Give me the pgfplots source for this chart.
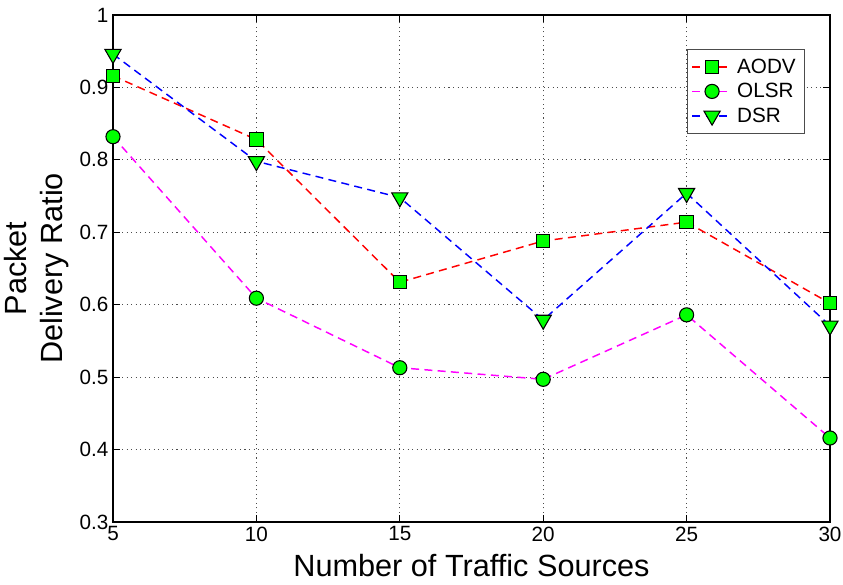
\documentclass[border=0pt]{standalone}
\usepackage{pgfplots}
\pgfplotsset{compat=1.18}
\usepackage{fontspec}
\setmainfont{Liberation Sans}
\definecolor{mgreen}{RGB}{0,255,0}
\definecolor{mmag}{RGB}{255,0,255}
\definecolor{mred}{RGB}{255,0,0}
\definecolor{mblue}{RGB}{0,0,255}
\begin{document}
\begin{tikzpicture}
\begin{axis}[
  at={(0,0)}, anchor=south west,
  scale only axis,
  width=537.75pt, height=380.25pt,
  xmin=5, xmax=30, ymin=0.3, ymax=1,
  xtick={5,10,15,20,25,30},
  ytick={0.3,0.4,0.5,0.6,0.7,0.8,0.9,1},
  yticklabels={0.3,0.4,0.5,0.6,0.7,0.8,0.9,1},
  /pgf/number format/assume math mode=true,
  tick label style={font=\fontsize{15.5}{18}\selectfont},
  tick align=inside,
  major tick length=5pt,
  tick style={black, line width=0.6pt},
  axis line style={black, line width=0.8pt},
  grid=major,
  major grid style={black!70, line width=0.6pt, dash pattern=on 0.8pt off 2.6pt},
  xlabel={Number of Traffic Sources},
  ylabel={Packet\\Delivery Ratio},
  label style={font=\fontsize{23}{27}\selectfont},
  xlabel style={at={(axis description cs:0.5,-0.085)}, anchor=center},
  ylabel style={at={(axis description cs:-0.106,0.5)}, anchor=center, align=center},
  legend style={at={(axis description cs:0.965,0.933)}, anchor=north east,
    draw=black!70, line width=0.7pt, fill=white,
    font=\fontsize{15.5}{18}\selectfont, row sep=2pt, inner xsep=3pt, inner ysep=5pt,
    nodes={inner xsep=3.5pt}},
  legend cell align=left,
  legend image code/.code={\draw[mark repeat=2,mark phase=2] plot coordinates {(0cm,0cm) (0.52cm,0cm) (1.04cm,0cm)};},
  every axis plot/.append style={line width=1.1pt, dash pattern=on 6pt off 4pt},
]
\addplot[mred, mark=square*, mark size=5pt, mark options={solid, fill=mgreen, draw=black, line width=0.8pt}]
  coordinates {(5,0.916) (10,0.828) (15,0.631) (20,0.688) (25,0.714) (30,0.602)};
\addlegendentry{AODV}
\addplot[mmag, mark=*, mark size=5.3pt, mark options={solid, fill=mgreen, draw=black, line width=0.8pt}]
  coordinates {(5,0.832) (10,0.609) (15,0.513) (20,0.497) (25,0.586) (30,0.416)};
\addlegendentry{OLSR}
\addplot[mblue, mark=triangle*, mark size=7pt, mark options={solid, rotate=180, fill=mgreen, draw=black, line width=0.8pt}]
  coordinates {(5,0.946) (10,0.798) (15,0.748) (20,0.579) (25,0.754) (30,0.571)};
\addlegendentry{DSR}
\end{axis}
\pgfresetboundingbox
\path[use as bounding box] (-84.75pt,-47.25pt) rectangle (547.5pt,391.5pt);
\end{tikzpicture}
\end{document}
